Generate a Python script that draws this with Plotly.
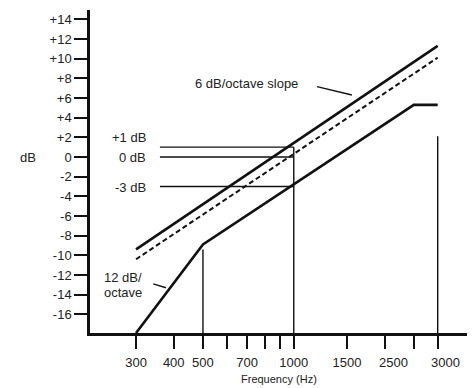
import math
import plotly.graph_objects as go

# ---- data ----
x_tick_vals = [300, 400, 500, 600, 700, 800, 900, 1000, 1500, 2000, 2500, 3000]
x_tick_text = ["300", "400", "500", "", "700", "", "", "1000", "1500", "", "", ""]
# the last two labels are nudged apart in the reference (drawn as annotations)
x_shifted_labels = ["2500", "3000"]
x_shifted_label_px = [393, 445]
y_tick_vals = list(range(-16, 15, 2))
y_tick_text = [("+%d" % v if v > 0 else str(v)) for v in y_tick_vals]

upper_freq = [300, 3000]
upper_db = [-9.4, 11.3]
dashed_freq = [300, 3000]
dashed_db = [-10.4, 10.1]
lower_freq = [300, 500, 2500, 3000]
lower_db = [-17.9, -8.9, 5.3, 5.3]

vert_freq = [500, 1000, 3000]
vert_top_db = [-9.4, 1.0, 2.1]
ref_levels = [1, 0, -3]
ref_labels = ["+1 dB", "0 dB", "-3 dB"]
ref_label_db = [1.96, -0.07, -3.1]
ref_start_freq = 360
ref_end_freq = 1000

y_min, y_max = -17.9, 14.95
x_min, x_max = 211.1, 3752

LINE = "#111111"
TXT = "#222222"
FONT = "Liberation Sans, Arial, sans-serif"
FS = 13

L, R, T, B, W, H = 90, 5, 10, 55, 472, 388
PW, PH = W - L - R, H - T - B

fig = go.Figure()

fig.add_trace(go.Scatter(x=upper_freq, y=upper_db, mode="lines",
                         line=dict(color=LINE, width=2.6), hoverinfo="skip"))
fig.add_trace(go.Scatter(x=dashed_freq, y=dashed_db, mode="lines",
                         line=dict(color=LINE, width=2, dash="5px,3px"), hoverinfo="skip"))
fig.add_trace(go.Scatter(x=lower_freq, y=lower_db, mode="lines",
                         line=dict(color=LINE, width=2.6), hoverinfo="skip"))

for f, top in zip(vert_freq, vert_top_db):
    fig.add_trace(go.Scatter(x=[f, f], y=[y_min, top], mode="lines",
                             line=dict(color=LINE, width=1.4), hoverinfo="skip"))

for lvl in ref_levels:
    fig.add_trace(go.Scatter(x=[ref_start_freq, ref_end_freq], y=[lvl, lvl], mode="lines",
                             line=dict(color=LINE, width=1.4), hoverinfo="skip"))

# pointer lines
fig.add_trace(go.Scatter(x=[1194, 1558], y=[7.16, 6.31], mode="lines",
                         line=dict(color=LINE, width=1.4), hoverinfo="skip"))
fig.add_trace(go.Scatter(x=[342, 377], y=[-12.9, -13.3], mode="lines",
                         line=dict(color=LINE, width=1.4), hoverinfo="skip"))

font = dict(size=FS, color=TXT, family=FONT)
annotations = []
for lab, ydb in zip(ref_labels, ref_label_db):
    annotations.append(dict(x=math.log10(329), y=ydb, xref="x", yref="y", text=lab,
                            showarrow=False, xanchor="right", yanchor="middle", font=font))
annotations.append(dict(x=math.log10(1049), y=7.44, xref="x", yref="y",
                        text="6 dB/octave slope", showarrow=False,
                        xanchor="right", yanchor="middle", font=font))
annotations.append(dict(x=math.log10(271.7), y=-12.25, xref="x", yref="y",
                        text="12 dB/", showarrow=False, xanchor="center", yanchor="middle",
                        font=font))
annotations.append(dict(x=math.log10(271.7), y=-13.8, xref="x", yref="y",
                        text="octave", showarrow=False, xanchor="center", yanchor="middle",
                        font=font))
annotations.append(dict(x=(27.5 - L) / PW, y=0, xref="paper", yref="y",
                        text="dB", showarrow=False, xanchor="center", yanchor="middle",
                        font=font))
for lab, px in zip(x_shifted_labels, x_shifted_label_px):
    annotations.append(dict(x=(px - L) / PW, y=(H - B - 362) / PH, xref="paper", yref="paper",
                            text=lab, showarrow=False, xanchor="center", yanchor="middle",
                            font=font))
annotations.append(dict(x=(279 - L) / PW, y=(H - B - 387) / PH, xref="paper", yref="paper",
                        text="Frequency (Hz)", showarrow=False, xanchor="center", yanchor="bottom",
                        font=dict(size=11, color=TXT, family=FONT)))

fig.update_layout(
    width=W, height=H,
    margin=dict(l=L, r=R, t=T, b=B, pad=0),
    paper_bgcolor="white", plot_bgcolor="white",
    showlegend=False,
    annotations=annotations,
    font=dict(family=FONT, size=FS, color=TXT),
    xaxis=dict(type="log", range=[math.log10(x_min), math.log10(x_max)],
               tickmode="array", tickvals=x_tick_vals, ticktext=x_tick_text,
               tickangle=0, ticklabelstandoff=3,
               showgrid=False, zeroline=False, showline=True, linecolor=LINE, linewidth=2.5,
               ticks="outside", ticklen=13, tickwidth=1.5, tickcolor=LINE,
               tickfont=dict(size=FS, color=TXT)),
    yaxis=dict(range=[y_min, y_max],
               tickmode="array", tickvals=y_tick_vals, ticktext=y_tick_text,
               showgrid=False, zeroline=False, showline=True, linecolor=LINE, linewidth=2.5,
               ticks="outside", ticklen=13, tickwidth=1.5, tickcolor=LINE,
               tickfont=dict(size=FS, color=TXT)),
)

fig.write_html("out.html")
